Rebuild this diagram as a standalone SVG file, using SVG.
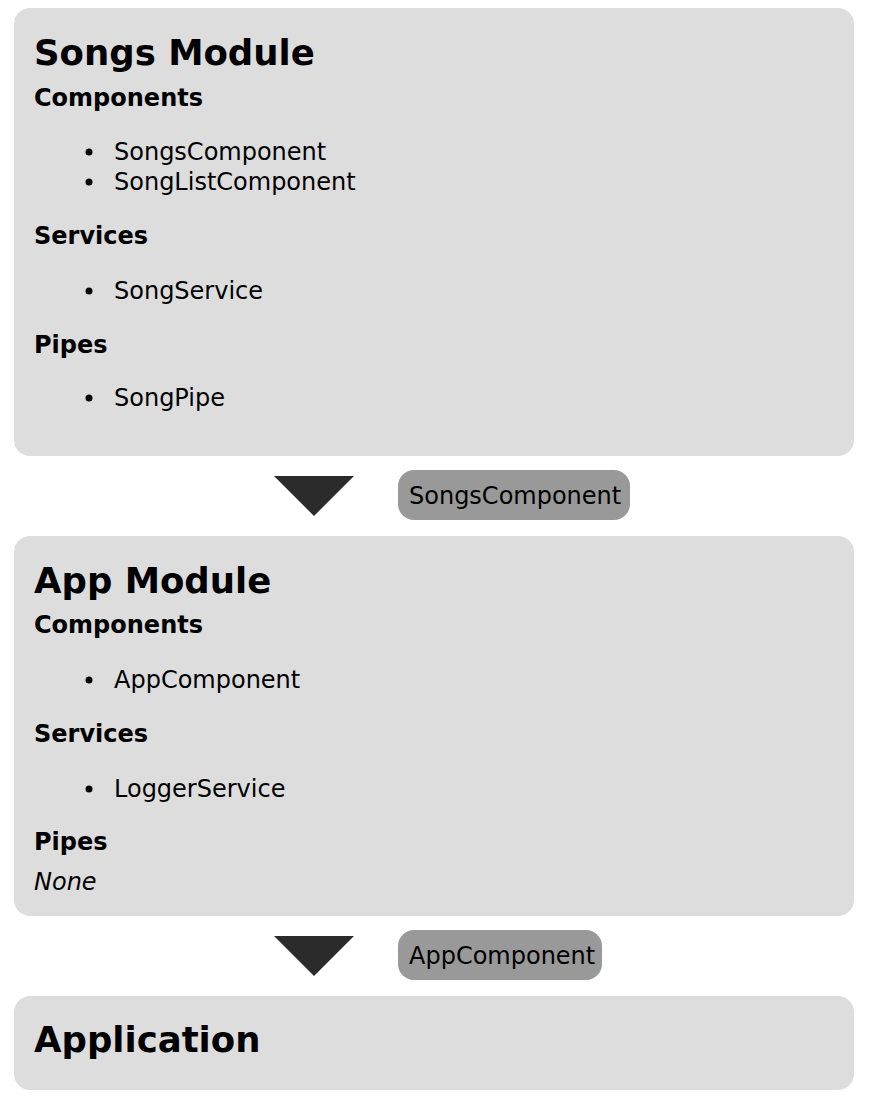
<svg xmlns="http://www.w3.org/2000/svg" width="872" height="1102" viewBox="0 0 872 1102">
<style>
.box{fill:#dddddd}
.pill{fill:#999999}
.arrow{fill:#2b2b2b}
text{font-family:"DejaVu Sans",Verdana,"Liberation Sans",sans-serif;fill:#000}
.title{font-size:35.5px;font-weight:bold}
.head{font-size:24px;font-weight:bold}
.item{font-size:24px}
.none{font-size:24px;font-style:italic}
.bul{fill:#000}
</style>
<rect width="872" height="1102" fill="#ffffff"/>
<g id="songs-module">
<rect class="box" x="14" y="8" width="840" height="448" rx="16"/>
<text class="title" x="34" y="65">Songs Module</text>
<text class="head" x="34" y="106">Components</text>
<circle class="bul" cx="89" cy="152" r="3.5"/>
<text class="item" x="114" y="160">SongsComponent</text>
<circle class="bul" cx="89" cy="182" r="3.5"/>
<text class="item" x="114" y="190">SongListComponent</text>
<text class="head" x="34" y="244">Services</text>
<circle class="bul" cx="89" cy="291" r="3.5"/>
<text class="item" x="114" y="299">SongService</text>
<text class="head" x="34" y="353">Pipes</text>
<circle class="bul" cx="89" cy="398" r="3.5"/>
<text class="item" x="114" y="406">SongPipe</text>
</g>
<g id="app-module">
<rect class="box" x="14" y="536" width="840" height="380" rx="16"/>
<text class="title" x="34" y="593">App Module</text>
<text class="head" x="34" y="633">Components</text>
<circle class="bul" cx="89" cy="680" r="3.5"/>
<text class="item" x="114" y="688">AppComponent</text>
<text class="head" x="34" y="742">Services</text>
<circle class="bul" cx="89" cy="789" r="3.5"/>
<text class="item" x="114" y="797">LoggerService</text>
<text class="head" x="34" y="850">Pipes</text>
<text class="none" x="34" y="890">None</text>
</g>
<g id="application">
<rect class="box" x="14" y="996" width="840" height="94" rx="16"/>
<text class="title" x="34" y="1052">Application</text>
</g>
<g id="connectors">
<g id="songs-to-app">
<polygon class="arrow" points="274,476 354,476 314,516"/>
<rect class="pill" x="398" y="470" width="232" height="50" rx="16"/>
<text class="item" x="409" y="504">SongsComponent</text>
</g>
<g id="app-to-application">
<polygon class="arrow" points="274,936 354,936 314,976"/>
<rect class="pill" x="398" y="930" width="204" height="50" rx="16"/>
<text class="item" x="409" y="964">AppComponent</text>
</g>
</g>
</svg>
